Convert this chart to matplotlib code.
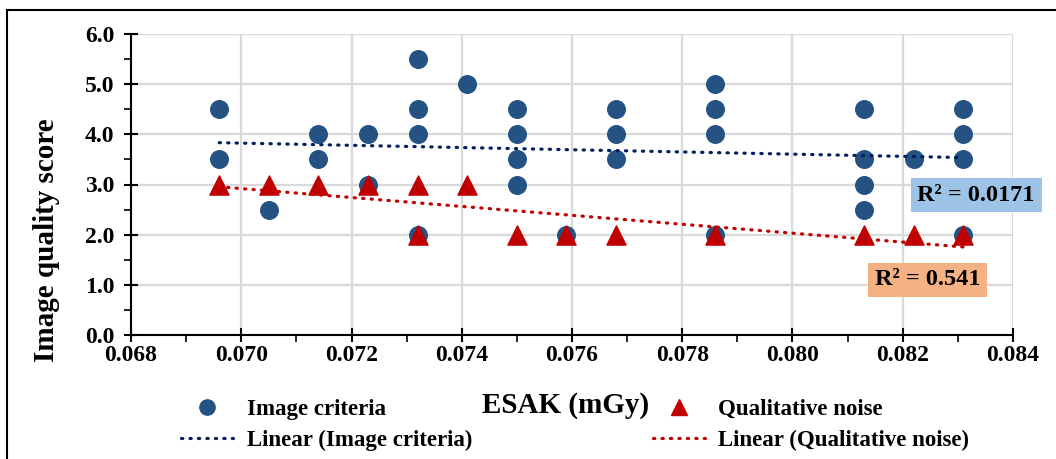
import numpy as np
import matplotlib
matplotlib.use('Agg')
from matplotlib import pyplot as plt
from matplotlib.patches import Rectangle
from matplotlib.lines import Line2D

plt.rcParams['font.family'] = ['Liberation Serif', 'DejaVu Serif']
plt.rcParams['font.weight'] = 'bold'

# ESAK (mGy) vs image quality scores
ic_x = [0.0696, 0.0696, 0.0705, 0.0714, 0.0714, 0.0723, 0.0723,
        0.0732, 0.0732, 0.0732, 0.0732, 0.0741,
        0.0750, 0.0750, 0.0750, 0.0750, 0.0759,
        0.0768, 0.0768, 0.0768, 0.0786, 0.0786, 0.0786, 0.0786,
        0.0813, 0.0813, 0.0813, 0.0813, 0.0822,
        0.0831, 0.0831, 0.0831, 0.0831]
ic_y = [4.5, 3.5, 2.5, 4.0, 3.5, 4.0, 3.0,
        5.5, 4.5, 4.0, 2.0, 5.0,
        4.5, 4.0, 3.5, 3.0, 2.0,
        4.5, 4.0, 3.5, 5.0, 4.5, 4.0, 2.0,
        4.5, 3.5, 3.0, 2.5, 3.5,
        4.5, 4.0, 3.5, 2.0]

qn_x = [0.0696, 0.0705, 0.0714, 0.0723, 0.0732, 0.0732, 0.0741,
        0.0750, 0.0759, 0.0768, 0.0786, 0.0813, 0.0822, 0.0831]
qn_y = [3, 3, 3, 3, 3, 2, 3, 2, 2, 2, 2, 2, 2, 2]

r2_labels = ['R\u00b2 = 0.0171', 'R\u00b2 = 0.541']

blue = '#245283'
navy = '#002060'
red = '#C00000'
dots = (0, (0.4, 2.25))

fig = plt.figure(figsize=(10.56, 4.59), dpi=100)
ax = fig.add_axes([131/1056, 1-335/459, 882/1056, 301/459])

ax.scatter(ic_x, ic_y, s=160, color=blue, zorder=3)
ax.scatter(qn_x, qn_y, s=190, marker='^', color=red, zorder=4)

def trend(x, y):
    x = np.array(x); y = np.array(y)
    k, b = np.polyfit(x, y, 1)
    xs = np.array([x.min(), x.max()])
    return xs, k*xs + b

tx, ty = trend(ic_x, ic_y)
ax.plot(tx, ty, color=navy, lw=2.3, linestyle=dots, dash_capstyle='round', zorder=5)
tx, ty = trend(qn_x, qn_y)
ax.plot(tx, ty, color=red, lw=2.3, linestyle=dots, dash_capstyle='round', zorder=5)

ax.set_xlim(0.068, 0.084)
ax.set_ylim(0, 6)
ax.set_xticks(np.arange(0.068, 0.0841, 0.002))
ax.set_xticks(np.arange(0.069, 0.084, 0.002), minor=True)
ax.set_yticks(np.arange(0, 6.1, 1))
ax.set_yticks(np.arange(0.5, 6, 1), minor=True)
ax.xaxis.set_major_formatter(matplotlib.ticker.FormatStrFormatter('%.3f'))
ax.yaxis.set_major_formatter(matplotlib.ticker.FormatStrFormatter('%.1f'))
ax.tick_params(axis='both', which='major', direction='inout', length=10, width=1.5,
               labelsize=17)
ax.tick_params(axis='x', which='major', pad=2)
ax.tick_params(axis='y', which='major', pad=7)
ax.tick_params(axis='x', which='minor', direction='out', length=5, width=1.2)
ax.tick_params(axis='y', which='minor', direction='out', length=5, width=1.2)
for lab in ax.get_xticklabels() + ax.get_yticklabels():
    lab.set_fontweight('bold')

ax.grid(True, which='major', color='#D9D9D9', lw=1.6, zorder=0)
ax.set_axisbelow(True)
for s in ['top', 'right']:
    ax.spines[s].set_visible(False)
for s in ['left', 'bottom']:
    ax.spines[s].set_linewidth(1.5)

ax.set_ylabel('Image quality score', fontsize=21, fontweight='bold')
ax.yaxis.set_label_coords(-0.08, 0.316)
ax.set_xlabel('ESAK (mGy)', fontsize=21, fontweight='bold')
ax.xaxis.set_label_coords(0.4925, -0.19)

ax.text(0.08333, 2.79, r2_labels[0], fontsize=17.5, fontweight='bold', ha='center', va='center',
        clip_on=False, zorder=6,
        bbox=dict(boxstyle='square,pad=0.28', fc='#9DC3E6', ec='none'))
ax.text(0.08245, 1.10, r2_labels[1], fontsize=17.5, fontweight='bold', ha='center', va='center',
        clip_on=False, zorder=6,
        bbox=dict(boxstyle='square,pad=0.28', fc='#F4B183', ec='none'))

handles = [
    Line2D([], [], marker='o', ls='none', color=blue, markersize=11),
    Line2D([], [], color=navy, lw=2.3, linestyle=dots, dash_capstyle='round'),
    Line2D([], [], marker='^', ls='none', color=red, markersize=11),
    Line2D([], [], color=red, lw=2.3, linestyle=dots, dash_capstyle='round'),
]
labels = ['Image criteria', 'Linear (Image criteria)',
          'Qualitative noise', 'Linear (Qualitative noise)']
fig.legend(handles, labels, ncol=2, loc='center left', bbox_to_anchor=(170/1056, 1-425/459),
           frameon=False, borderpad=0, handlelength=2.25, handletextpad=0.6,
           columnspacing=7.9, labelspacing=0.4, prop={'size': 16.5, 'weight': 'bold'})

fig.patches.append(Rectangle((7/1056, -0.1), 1.2, 1-10/459+0.1, transform=fig.transFigure,
                             fill=False, ec='black', lw=1.5))

fig.savefig('out.png', dpi=100)
